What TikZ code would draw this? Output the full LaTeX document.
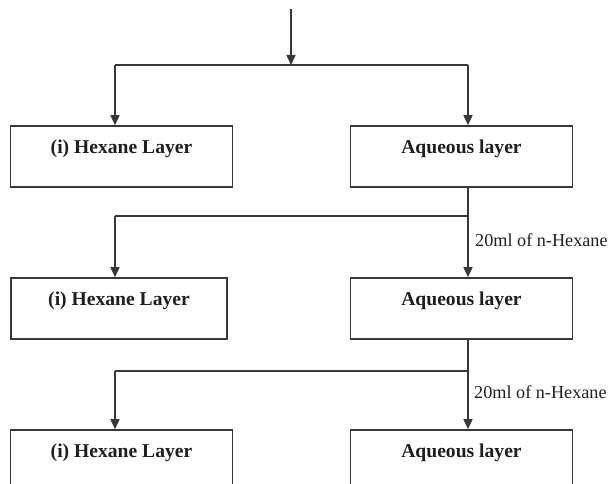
\documentclass[tikz,border=0pt]{standalone}
\usepackage{fontspec}
\setmainfont{Liberation Serif}
\usetikzlibrary{arrows.meta}
\colorlet{linecol}{black!78}
\colorlet{txtcol}{black!88}
\begin{document}
\begin{tikzpicture}[x=1pt,y=-1pt,
  box/.style={draw=linecol, line width=1.6pt, minimum width=222pt, minimum height=61pt, inner sep=0pt},
  boxtxt/.style={anchor=base, inner sep=0pt, yshift=-28pt, text=txtcol, font=\fontsize{19.6}{22}\selectfont\bfseries},
  lbl/.style={anchor=west, inner sep=0pt, text=txtcol, font=\fontsize{18.2}{20}\selectfont},
  conn/.style={draw=linecol, line width=1.6pt},
  arr/.style={draw=linecol, fill=linecol, line width=1.6pt, -{Triangle[width=9pt,length=10pt]}}]
\useasboundingbox (0,0) rectangle (610,484);
% boxes
\node[box, label={[boxtxt]north:(i) Hexane Layer}] (h1) at (121.5,156.5) {};
\node[box, label={[boxtxt]north:Aqueous layer}] (a1) at (461.5,156.5) {};
\node[box, minimum width=216pt, label={[boxtxt]north:(i) Hexane Layer}] (h2) at (119,308.5) {};
\node[box, label={[boxtxt]north:Aqueous layer}] (a2) at (461.5,308.5) {};
\node[box, label={[boxtxt]north:(i) Hexane Layer}] (h3) at (121.5,460.5) {};
\node[box, label={[boxtxt]north:Aqueous layer}] (a3) at (461.5,460.5) {};
% coordinates
\coordinate (top) at (291,9);
\coordinate (j1) at (291,65);
\coordinate (l1) at (115,65);
\coordinate (r1) at (468,65);
\coordinate (l2) at (115,216);
\coordinate (r2) at (468,216);
\coordinate (l3) at (115,371);
\coordinate (r3) at (468,371);
% first split
\draw[arr] (top) -- (j1);
\draw[conn] (l1) -- (r1);
\draw[arr] (l1) -- (l1 |- h1.north);
\draw[arr] (r1) -- (r1 |- a1.north);
% second split
\draw[conn] (r2 |- a1.south) -- (r2) -- (l2);
\draw[arr] (l2) -- (l2 |- h2.north);
\draw[arr] (r2) -- (r2 |- a2.north);
\node[lbl] (t1) at (475,240) {20ml of n-Hexane};
% third split
\draw[conn] (r3 |- a2.south) -- (r3) -- (l3);
\draw[arr] (l3) -- (l3 |- h3.north);
\draw[arr] (r3) -- (r3 |- a3.north);
\node[lbl] (t2) at (474,392) {20ml of n-Hexane};
\end{tikzpicture}
\end{document}
